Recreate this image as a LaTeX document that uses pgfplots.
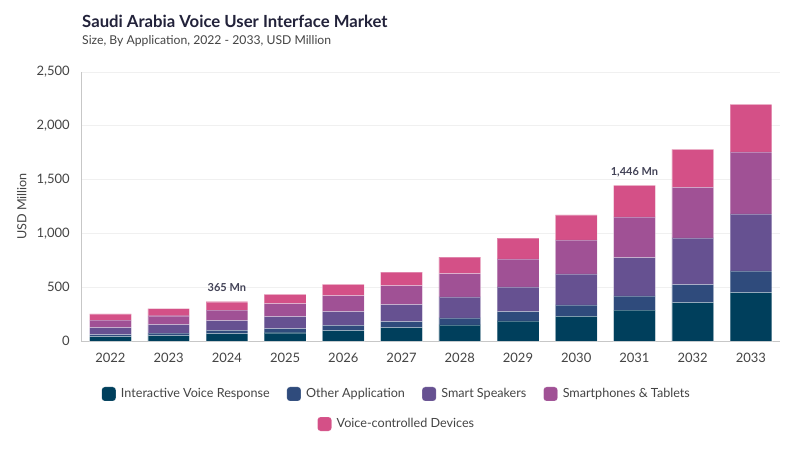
\documentclass[border=0pt]{standalone}
\usepackage{fontspec}
\setmainfont{Lato}
\usepackage{pgfplots}
\pgfplotsset{compat=1.18}

\definecolor{cIVR}{HTML}{003F5C}
\definecolor{cOther}{HTML}{2F4B7C}
\definecolor{cSpk}{HTML}{665191}
\definecolor{cPhone}{HTML}{A05195}
\definecolor{cVoice}{HTML}{D45087}
\definecolor{txt}{HTML}{444444}
\definecolor{ttl}{HTML}{22223A}

\pgfplotsset{
  sq/.style={legend image code/.code={\fill[##1,rounded corners=3pt] (0pt,-7pt) rectangle (14pt,7pt);}},
  seg/.style={fill=#1, draw=white, draw opacity=0.3, line width=0.4pt, sq},
  legsty/.style={
    draw=none, fill=none, inner sep=0pt, anchor=center,
    font=\fontsize{12.6}{14}\selectfont, text=txt,
    nodes={inner sep=0pt},
    /tikz/every odd column/.append style={column sep=5pt},
    /tikz/every even column/.append style={column sep=17pt},
  },
}

\begin{document}
\begin{tikzpicture}
  \fill[white] (0pt,0pt) rectangle (800pt,450pt);
  \path[use as bounding box] (0pt,0pt) rectangle (800pt,450pt);

  \node[anchor=base west, inner sep=0pt, text=ttl, font=\bfseries\fontsize{16.7}{18}\selectfont] at (82pt,422pt) {Saudi Arabia Voice User Interface Market};
  \node[anchor=base west, inner sep=0pt, text=txt, font=\fontsize{12.2}{14}\selectfont] at (82pt,405pt) {Size, By Application, 2022 - 2033, USD Million};

  \begin{axis}[
      at={(81.3pt,109pt)}, anchor=south west,
      scale only axis, width=698.7pt, height=269pt,
      ybar stacked, bar width=41.7pt,
      xmin=-0.5, xmax=11.5, ymin=0, ymax=2500,
      xtick=data,
      xticklabels={2022,2023,2024,2025,2026,2027,2028,2029,2030,2031,2032,2033},
      ytick={0,500,1000,1500,2000,2500},
      scaled y ticks=false,
      /pgf/number format/.cd, 1000 sep={,}, assume math mode=true, /pgfplots/.cd,
      major tick length=0pt,
      axis x line*=bottom, axis y line*=left,
      axis line style={draw=black!22, line width=0.7pt},
      ymajorgrids, major grid style={draw=black!6, line width=0.7pt},
      tick label style={font=\fontsize{13}{15}\selectfont, text=txt},
      yticklabel style={xshift=-8pt},
      xticklabel style={yshift=-9pt},
      ylabel={USD Million},
      ylabel style={font=\fontsize{12.6}{14}\selectfont, text=txt, at={(axis description cs:-0.0853,0.5)}, anchor=center},
      legend columns=4,
      legend style={legsty, at={(0.45,-0.197)}},
    ]
    \addplot[seg=cIVR] coordinates {
      (0,40) (1,50) (2,68) (3,77) (4,96) (5,124)
      (6,149) (7,186) (8,230) (9,288) (10,357) (11,450)};
    \addlegendentry{Interactive Voice Response}
    \addplot[seg=cOther] coordinates {
      (0,19) (1,24) (2,31) (3,38) (4,50) (5,56)
      (6,65) (7,87) (8,105) (9,131) (10,168) (11,201)};
    \addlegendentry{Other Application}
    \addplot[seg=cSpk] coordinates {
      (0,65) (1,78) (2,90) (3,111) (4,127) (5,158)
      (6,195) (7,229) (8,288) (9,357) (10,433) (11,531)};
    \addlegendentry{Smart Speakers}
    \addplot[seg=cPhone] coordinates {
      (0,71) (1,83) (2,99) (3,121) (4,149) (5,177)
      (6,218) (7,261) (8,317) (9,378) (10,469) (11,576)};
    \addlegendentry{Smartphones \& Tablets}
    \addplot[seg=cVoice] coordinates {
      (0,56) (1,66) (2,77) (3,87) (4,105) (5,124)
      (6,152) (7,192) (8,232) (9,292) (10,354) (11,441)};

    \node[anchor=base, yshift=10pt, inner sep=0pt, text=ttl!85, font=\bfseries\fontsize{11}{12}\selectfont] at (axis cs:2,365) {365 Mn};
    \node[anchor=base, yshift=10pt, inner sep=0pt, text=ttl!85, font=\bfseries\fontsize{11}{12}\selectfont] at (axis cs:9,1446) {1,446 Mn};
  \end{axis}

  \begin{axis}[
      at={(81.3pt,109pt)}, anchor=south west,
      scale only axis, width=698.7pt, height=269pt,
      hide axis, xmin=0, xmax=1, ymin=0, ymax=1,
      legend columns=1,
      legend style={legsty, at={(0.45,-0.3086)}},
    ]
    \addlegendimage{seg=cVoice}
    \addlegendentry{Voice-controlled Devices}
  \end{axis}
\end{tikzpicture}
\end{document}
